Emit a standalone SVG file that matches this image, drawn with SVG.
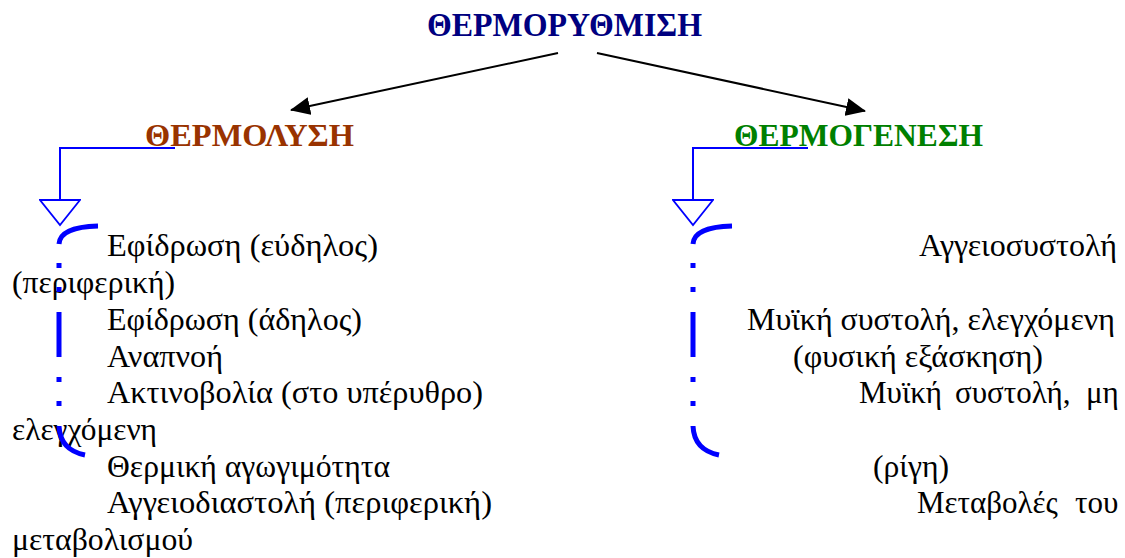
<svg xmlns="http://www.w3.org/2000/svg" width="1125" height="558" viewBox="0 0 1125 558">
  <style>
    .title { font-family: "Liberation Serif", "Times New Roman", serif; font-weight: bold; }
    .body { font-family: "Liberation Serif", "Times New Roman", serif; font-size: 31px; fill: #000000; }
    .arrow { stroke: #000000; stroke-width: 2; fill: none; }
    .flow { stroke: #0000ff; stroke-width: 2; fill: none; }
    .bracket { stroke: #0000ff; stroke-width: 5; fill: none; stroke-linecap: butt; }
  </style>
  <defs>
    <marker id="head" markerUnits="userSpaceOnUse" viewBox="0 0 20 18" refX="19" refY="9" markerWidth="20" markerHeight="18" orient="auto">
      <path d="M0,0 L20,9 L0,18 z" fill="#000000"/>
    </marker>
    <marker id="open" markerUnits="userSpaceOnUse" viewBox="-1 -21 28 42" refX="0" refY="0" markerWidth="28" markerHeight="42" orient="auto">
      <path d="M0,-20 L25,0 L0,20 z" fill="#ffffff" stroke="#0000ff" stroke-width="1.8"/>
    </marker>
  </defs>

  <g id="node-thermoruthmisi">
    <text class="title" x="427" y="36" font-size="34" fill="#000080" textLength="275" lengthAdjust="spacingAndGlyphs">ΘΕΡΜΟΡΥΘΜΙΣΗ</text>
  </g>
  <g id="node-thermolysi">
    <text class="title" x="145" y="146" font-size="32" fill="#993300" textLength="209" lengthAdjust="spacingAndGlyphs">ΘΕΡΜΟΛΥΣΗ</text>
  </g>
  <g id="node-thermogenesi">
    <text class="title" x="734" y="146" font-size="32" fill="#008000" textLength="249" lengthAdjust="spacingAndGlyphs">ΘΕΡΜΟΓΕΝΕΣΗ</text>
  </g>

  <g id="node-left-list" class="body">
    <text x="107" y="256" textLength="271" lengthAdjust="spacingAndGlyphs">Εφίδρωση (εύδηλος)</text>
    <text x="12" y="293" textLength="163" lengthAdjust="spacingAndGlyphs">(περιφερική)</text>
    <text x="107" y="330" textLength="255" lengthAdjust="spacingAndGlyphs">Εφίδρωση (άδηλος)</text>
    <text x="107" y="367" textLength="116" lengthAdjust="spacingAndGlyphs">Αναπνοή</text>
    <text x="107" y="403" textLength="376" lengthAdjust="spacingAndGlyphs">Ακτινοβολία (στο υπέρυθρο)</text>
    <text x="12" y="440" textLength="145" lengthAdjust="spacingAndGlyphs">ελεγχόμενη</text>
    <text x="107" y="477" textLength="283" lengthAdjust="spacingAndGlyphs">Θερμική αγωγιμότητα</text>
    <text x="107" y="513" textLength="385" lengthAdjust="spacingAndGlyphs">Αγγειοδιαστολή (περιφερική)</text>
    <text x="12" y="550" textLength="181" lengthAdjust="spacingAndGlyphs">μεταβολισμού</text>
  </g>

  <g id="node-right-list" class="body">
    <text x="919" y="256" textLength="198" lengthAdjust="spacingAndGlyphs">Αγγειοσυστολή</text>
    <text x="747" y="330" textLength="368" lengthAdjust="spacingAndGlyphs">Μυϊκή συστολή, ελεγχόμενη</text>
    <text x="793" y="367" textLength="250" lengthAdjust="spacingAndGlyphs">(φυσική εξάσκηση)</text>
    <text y="403"><tspan x="859">Μυϊκή</tspan> <tspan x="955">συστολή,</tspan> <tspan x="1086">μη</tspan></text>
    <text x="873" y="477" textLength="76" lengthAdjust="spacingAndGlyphs">(ρίγη)</text>
    <text y="513"><tspan x="917">Μεταβολές</tspan> <tspan x="1075">του</tspan></text>
  </g>

  <g id="connectors">
    <line class="arrow" x1="558" y1="53" x2="291" y2="110" marker-end="url(#head)"/>
    <line class="arrow" x1="597" y1="53" x2="865" y2="111" marker-end="url(#head)"/>
    <polyline class="flow" points="175,148 60,148 60,200" marker-end="url(#open)"/>
    <polyline class="flow" points="808,148 693,148 693,200" marker-end="url(#open)"/>
  </g>

  <g id="bracket-left">
    <path class="bracket" d="M98,226 Q60,227 59,244"/>
    <line class="bracket" x1="59" y1="263" x2="59" y2="406" stroke-dasharray="5 19 5 20 45 20 5 19 5"/>
    <path class="bracket" d="M59,426 Q60,450 85,455"/>
  </g>
  <g id="bracket-right">
    <path class="bracket" d="M732,226 Q694,227 693,244"/>
    <line class="bracket" x1="693" y1="263" x2="693" y2="406" stroke-dasharray="5 19 5 20 45 20 5 19 5"/>
    <path class="bracket" d="M693,426 Q694,450 719,455"/>
  </g>
</svg>
